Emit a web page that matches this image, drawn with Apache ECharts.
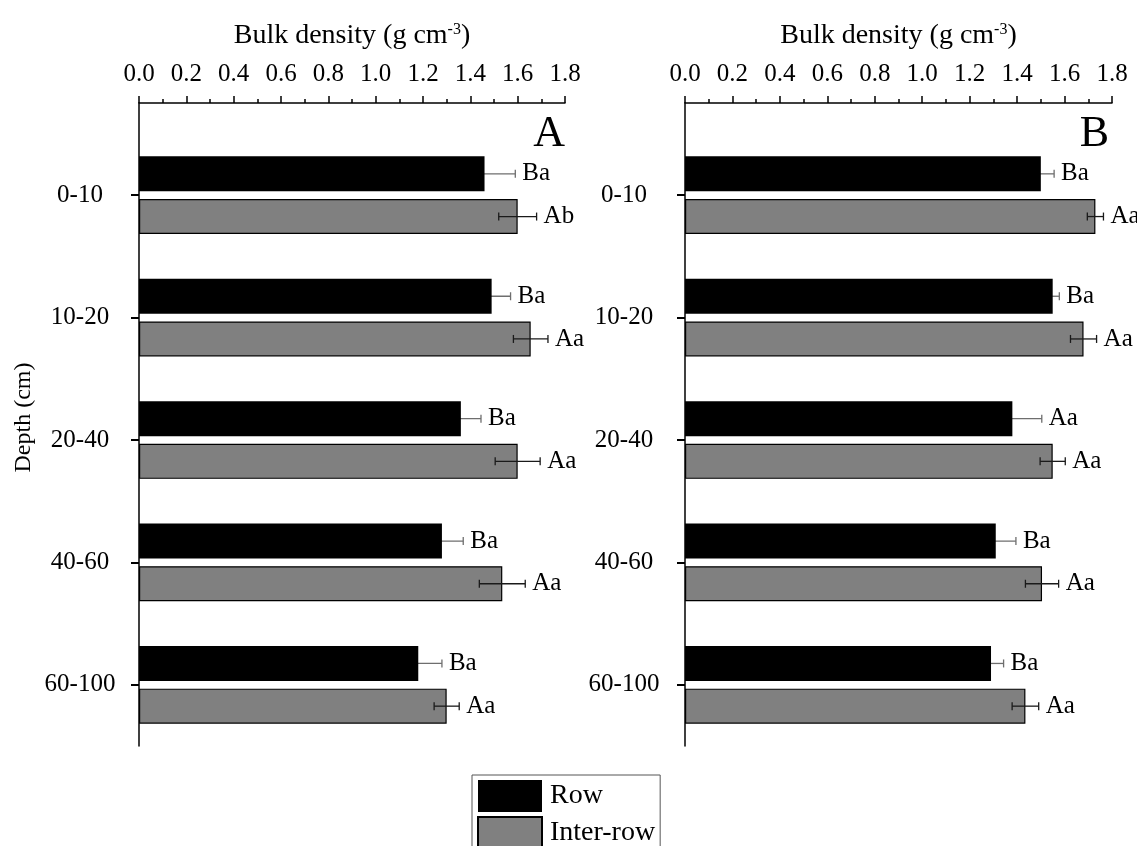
<!DOCTYPE html>
<html>
<head>
<meta charset="utf-8">
<script src="https://cdn.jsdelivr.net/npm/echarts@6/dist/echarts.min.js"></script>
<style>
  html, body { margin: 0; padding: 0; background: #fff; }
  #chart { width: 1137px; height: 846px; }
</style>
</head>
<body>
<div id="chart"></div>
<script>
// Soil depth layers
const depthLabels = ['0-10', '10-20', '20-40', '40-60', '60-100'];
const xTickLabels = ['0.0', '0.2', '0.4', '0.6', '0.8', '1.0', '1.2', '1.4', '1.6', '1.8'];

// Panel A: bulk density (g cm-3), mean and error
const rowA = [1.46, 1.49, 1.36, 1.28, 1.18];
const rowAErr = [0.13, 0.08, 0.085, 0.09, 0.10];
const rowASig = ['Ba', 'Ba', 'Ba', 'Ba', 'Ba'];
const interA = [1.60, 1.655, 1.60, 1.535, 1.30];
const interAErr = [0.08, 0.073, 0.095, 0.097, 0.053];
const interASig = ['Ab', 'Aa', 'Aa', 'Aa', 'Aa'];

// Panel B
const rowB = [1.50, 1.55, 1.38, 1.31, 1.29];
const rowBErr = [0.056, 0.028, 0.124, 0.085, 0.053];
const rowBSig = ['Ba', 'Ba', 'Aa', 'Ba', 'Ba'];
const interB = [1.73, 1.68, 1.55, 1.505, 1.435];
const interBErr = [0.034, 0.055, 0.053, 0.07, 0.056];
const interBSig = ['Aa', 'Aa', 'Aa', 'Aa', 'Aa'];

const FONT = "'Liberation Serif', 'Times New Roman', serif";
const BAR_W = 35;
const BAR_GAP = 0.22;
const SHIFT = BAR_W / 2 + (BAR_W * BAR_GAP) / 2;

const panels = [
  { left: 139, width: 426, letterRight: 572, labelMargin: 59, yName: 'Depth (cm)',
    row: rowA, rowErr: rowAErr, rowSig: rowASig, inter: interA, interErr: interAErr, interSig: interASig, letter: 'A' },
  { left: 685, width: 427, letterRight: 28, labelMargin: 61, yName: '',
    row: rowB, rowErr: rowBErr, rowSig: rowBSig, inter: interB, interErr: interBErr, interSig: interBSig, letter: 'B' }
];

// Error bar with caps plus the significance letters to its right
function errorRenderer(values, errs, sigs, shift, color, lw) {
  return function (params, api) {
    const i = params.dataIndex;
    const c = api.coord([values[i], i]);
    const lo = api.coord([values[i] - errs[i], i])[0];
    const hi = api.coord([values[i] + errs[i], i])[0];
    const y = c[1] + shift;
    const cap = 4;
    const ls = { stroke: color, lineWidth: lw };
    return {
      type: 'group',
      children: [
        { type: 'line', shape: { x1: lo, y1: y, x2: hi, y2: y }, style: ls },
        { type: 'line', shape: { x1: lo, y1: y - cap, x2: lo, y2: y + cap }, style: ls },
        { type: 'line', shape: { x1: hi, y1: y - cap, x2: hi, y2: y + cap }, style: ls },
        { type: 'text', style: { text: sigs[i], x: hi + 7, y: y, fill: '#000', fontSize: 25,
            fontFamily: FONT, verticalAlign: 'middle', align: 'left' } }
      ]
    };
  };
}

const grid = [], xAxis = [], yAxis = [], series = [], title = [];
const axisLineStyle = { color: '#000', width: 1.5 };

panels.forEach((p, k) => {
  const outer = 2 * k, inner = 2 * k + 1;
  // frame grid: top value axis and left axis line
  grid.push({ left: p.left, width: p.width, top: 103, height: 643, outerBoundsMode: 'none' });
  // plotting grid holding the depth categories
  grid.push({ left: p.left, width: p.width, top: 134, height: 612, outerBoundsMode: 'none' });

  xAxis.push({
    gridIndex: outer, type: 'value', position: 'top', min: 0, max: 1.8, interval: 0.2,
    name: 'Bulk density (g cm{sup|-3})', nameLocation: 'middle', nameGap: 53,
    nameTextStyle: { fontSize: 28, fontFamily: FONT, color: '#000',
      rich: { sup: { fontSize: 16, fontFamily: FONT, color: '#000', verticalAlign: 'top' } } },
    axisLine: { show: true, onZero: false, lineStyle: axisLineStyle },
    axisTick: { show: true, inside: false, length: 7, lineStyle: axisLineStyle },
    minorTick: { show: true, splitNumber: 2, length: 4, lineStyle: axisLineStyle },
    axisLabel: { margin: 16, fontSize: 25, fontFamily: FONT, color: '#000',
      formatter: (v, i) => xTickLabels[i] },
    splitLine: { show: false }
  });
  xAxis.push({ gridIndex: inner, type: 'value', min: 0, max: 1.8, show: false });

  yAxis.push({
    gridIndex: outer, type: 'value', min: 0, max: 1,
    name: p.yName, nameLocation: 'middle', nameGap: 103, nameRotate: 90,
    nameTextStyle: { fontSize: 24, fontFamily: FONT, color: '#000', padding: [0, 0, 0, 14] },
    axisLine: { show: true, onZero: false, lineStyle: axisLineStyle },
    axisTick: { show: false }, axisLabel: { show: false }, splitLine: { show: false }
  });
  yAxis.push({
    gridIndex: inner, type: 'category', data: depthLabels, inverse: true,
    axisLine: { show: false },
    axisTick: { show: true, alignWithLabel: true, length: 8, lineStyle: { color: '#000', width: 2 } },
    axisLabel: { margin: p.labelMargin, align: 'center', fontSize: 25, fontFamily: FONT, color: '#000' },
    splitLine: { show: false }
  });

  series.push({
    name: 'Row', type: 'bar', xAxisIndex: inner, yAxisIndex: inner, data: p.row,
    barWidth: BAR_W, barGap: (BAR_GAP * 100) + '%', z: 2,
    itemStyle: { color: '#000' }
  });
  series.push({
    name: 'Inter-row', type: 'bar', xAxisIndex: inner, yAxisIndex: inner, data: p.inter,
    barWidth: BAR_W, barGap: (BAR_GAP * 100) + '%', z: 2,
    itemStyle: { color: '#808080', borderColor: '#000', borderWidth: 1.2 }
  });
  series.push({
    type: 'custom', xAxisIndex: inner, yAxisIndex: inner, z: 1,
    data: p.row.map((v, i) => [v, i]), encode: { x: 0, y: 1 },
    renderItem: errorRenderer(p.row, p.rowErr, p.rowSig, -SHIFT, '#6e6e6e', 1.3)
  });
  series.push({
    type: 'custom', xAxisIndex: inner, yAxisIndex: inner, z: 3,
    data: p.inter.map((v, i) => [v, i]), encode: { x: 0, y: 1 },
    renderItem: errorRenderer(p.inter, p.interErr, p.interSig, SHIFT, '#1a1a1a', 1.3)
  });

  title.push({
    text: p.letter, right: p.letterRight, top: 112, padding: 0,
    textStyle: { fontSize: 44, fontFamily: FONT, color: '#000', fontWeight: 'normal' }
  });
});

const chart = echarts.init(document.getElementById('chart'), null, { renderer: 'canvas' });
chart.setOption({
  backgroundColor: '#fff',
  animation: false,
  title,
  grid, xAxis, yAxis, series,
  legend: {
    data: ['Row', 'Inter-row'], orient: 'vertical', left: 472, top: 775, height: 120,
    itemWidth: 64, itemHeight: 32, itemGap: 4, padding: 5,
    borderColor: '#555', borderWidth: 1, icon: 'rect', selectedMode: false,
    textStyle: { fontSize: 28, fontFamily: FONT, color: '#000', padding: [2, 0, 0, 3] }
  }
});
</script>
</body>
</html>
